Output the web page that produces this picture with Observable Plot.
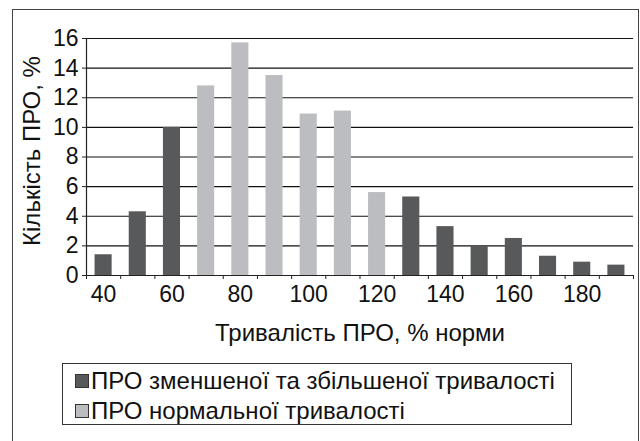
<!DOCTYPE html>
<html>
<head>
<meta charset="utf-8">
<script src="https://cdn.jsdelivr.net/npm/d3@7"></script>
<script src="https://cdn.jsdelivr.net/npm/@observablehq/plot@0.6"></script>
<style>
  html, body { margin: 0; padding: 0; background: #fff; width: 640px; height: 441px; overflow: hidden; }
  #frame { position: absolute; left: 12px; top: 9px; width: 627px; height: 520px; border: 1.5px solid #444; box-sizing: border-box; }
  #chart { position: absolute; left: 0; top: 0; }
  #legend { position: absolute; left: 62px; top: 363px; width: 510px; height: 62px; border: 1.3px solid #333; box-sizing: border-box;
            font-family: "Liberation Sans", Arial, sans-serif; font-size: 24px; color: #111; padding-top: 2px; }
  .row { display: flex; align-items: center; height: 30px; padding-left: 12px; }
  .sw { width: 14px; height: 14px; border: 1px solid #333; box-sizing: border-box; margin-right: 2px; }
</style>
</head>
<body>
<div id="frame"></div>
<div id="chart"></div>
<div id="legend"></div>
<script>
const categories = [40, 50, 60, 70, 80, 90, 100, 110, 120, 130, 140, 150, 160, 170, 180, 190];
const values = [1.4, 4.3, 10.0, 12.8, 15.7, 13.5, 10.9, 11.1, 5.6, 5.3, 3.3, 2.0, 2.5, 1.3, 0.9, 0.7];
const seriesNames = ["ПРО зменшеної та збільшеної тривалості", "ПРО нормальної тривалості"];
const seriesOf = [0, 0, 0, 1, 1, 1, 1, 1, 1, 0, 0, 0, 0, 0, 0, 0];
const seriesColors = ["#58595b", "#bcbdc1"];
const xTickLabels = [40, 60, 80, 100, 120, 140, 160, 180];
const yTicks = [0, 2, 4, 6, 8, 10, 12, 14, 16];
const xTitle = "Тривалість ПРО, % норми";
const yTitle = "Кількість ПРО, %";

const data = categories.map((c, i) => ({x: c, v: values[i], s: seriesNames[seriesOf[i]]}));
const step = categories[1] - categories[0];
const boundaries = categories.map(c => c - step / 2).concat([categories[categories.length - 1] + step / 2]);
const font = "Liberation Sans, Arial, sans-serif";

const chart = Plot.plot({
  width: 640,
  height: 350,
  marginLeft: 86,
  marginRight: 7,
  marginTop: 38,
  marginBottom: 75,
  style: {fontFamily: font, fontSize: "23px", color: "#111", background: "transparent"},
  x: {domain: [boundaries[0], boundaries[boundaries.length - 1]]},
  y: {domain: [0, 16]},
  color: {domain: seriesNames, range: seriesColors},
  marks: [
    Plot.ruleY(yTicks.filter(t => t > 0), {stroke: "#111", strokeWidth: 1.2}),
    Plot.rectY(data, {x1: d => d.x - step / 4, x2: d => d.x + step / 4, y1: 0, y2: "v", fill: "s"}),
    Plot.ruleY([0], {stroke: "#222", strokeWidth: 1.2}),
    Plot.ruleX([boundaries[0]], {stroke: "#222", strokeWidth: 1.2}),
    Plot.axisY({ticks: yTicks, tickSize: 4, tickPadding: 4, fontSize: 23, label: null, stroke: "#222"}),
    Plot.axisX({ticks: boundaries, tickSize: 4, tickFormat: () => "", label: null, stroke: "#222"}),
    Plot.axisX({ticks: xTickLabels, tickSize: 0, tickPadding: 10, fontSize: 23, label: null}),
    Plot.text([xTitle], {frameAnchor: "bottom", dy: 58, text: d => d, fontSize: 24, lineAnchor: "middle", textAnchor: "middle", fill: "#111"}),
    Plot.text([yTitle], {frameAnchor: "left", dx: -54, dy: -6, rotate: -90, text: d => d, fontSize: 24, lineAnchor: "middle", textAnchor: "middle", fill: "#111"})
  ]
});
document.getElementById("chart").appendChild(chart);

const legend = document.getElementById("legend");
seriesNames.forEach((name, i) => {
  const row = document.createElement("div");
  row.className = "row";
  const sw = document.createElement("div");
  sw.className = "sw";
  sw.style.background = seriesColors[i];
  const label = document.createElement("span");
  label.textContent = name;
  row.appendChild(sw);
  row.appendChild(label);
  legend.appendChild(row);
});
</script>
</body>
</html>
